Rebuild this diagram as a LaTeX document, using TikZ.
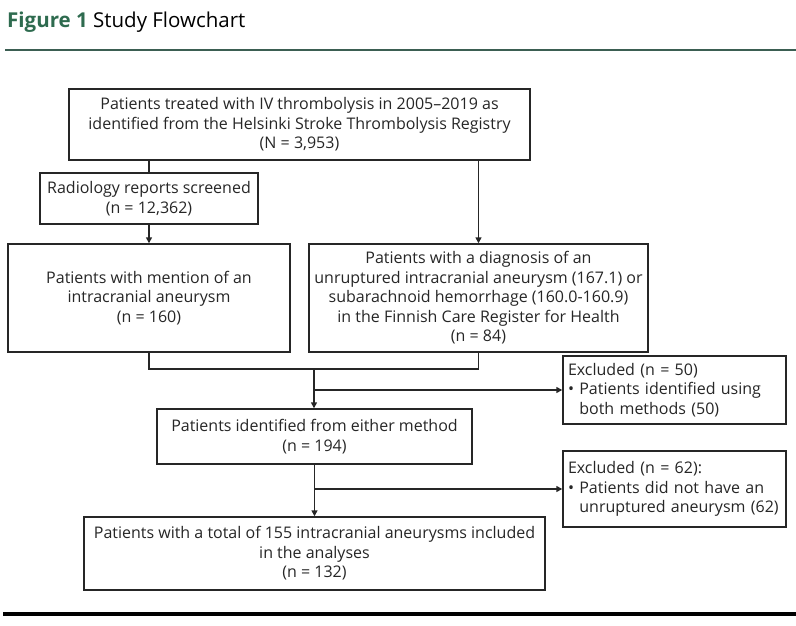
\documentclass[tikz,border=0pt]{standalone}
\usepackage{fontspec}
\setmainfont{Open Sans}
\usetikzlibrary{arrows.meta}
\definecolor{figgreen}{HTML}{2E6B4F}
\definecolor{rulegreen}{HTML}{3B5E52}
\begin{document}
\begin{tikzpicture}[x=1pt,y=-1pt,
  box/.style={draw=black!85, line width=1.4pt, align=center, inner sep=2pt,
    font=\fontsize{16}{19.5}\selectfont, text=black!85},
  conn/.style={draw=black!85, line width=1.4pt},
  arr/.style={conn, -{Triangle[length=6pt,width=6pt]}}]
\useasboundingbox (0,0) rectangle (796,626);
\node[anchor=base west, inner sep=0pt, font=\fontsize{20.5}{24}\selectfont] (title) at (7,28)
  {\textcolor{figgreen}{\bfseries Figure 1} Study Flowchart};
\draw[rulegreen, line width=2pt] (5,50) -- (796,50);
\draw[black, line width=4pt] (3,614) -- (796,614);

\node[box, minimum width=461, minimum height=71] (top) at (299.5,124.5)
  {Patients treated with IV thrombolysis in 2005–2019 as\\identified from the Helsinki Stroke Thrombolysis Registry\\(N = 3,953)};
\node[box, minimum width=218, minimum height=51] (rad) at (149,198.5)
  {Radiology reports screened\\(n = 12,362)};
\node[box, minimum width=282, minimum height=108] (mention) at (149,298)
  {Patients with mention of an\\intracranial aneurysm\\(n = 160)};
\node[box, minimum width=339, minimum height=108] (diag) at (478.5,298)
  {Patients with a diagnosis of an\\unruptured intracranial aneurysm (167.1) or\\subarachnoid hemorrhage (160.0-160.9)\\in the Finnish Care Register for Health\\(n = 84)};
\node[box, align=left, minimum width=223, minimum height=68, text width=213] (ex50) at (674.5,390)
  {Excluded (n = 50)\\• Patients identified using\\\hphantom{• }both methods (50)};
\node[box, minimum width=315, minimum height=55] (either) at (314.5,436.5)
  {Patients identified from either method\\(n = 194)};
\node[box, align=left, minimum width=223, minimum height=76, text width=213] (ex62) at (674.5,489)
  {Excluded (n = 62):\\• Patients did not have an\\\hphantom{• }unruptured aneurysm (62)};
\node[box, minimum width=461, minimum height=73] (final) at (314.5,553.5)
  {Patients with a total of 155 intracranial aneurysms included\\in the analyses\\(n = 132)};

\coordinate (j1) at (314,369);
\draw[conn] (rad.north |- top.south) -- (rad.north);
\draw[arr] (rad.south) -- (mention.north);
\draw[arr] (diag.north |- top.south) -- (diag.north);
\draw[conn] (mention.south) -- (mention.south |- j1) -- (diag.south |- j1) -- (diag.south);
\draw[arr] (j1) -- (j1 |- either.north);
\draw[arr] (j1 |- ex50.west) -- (ex50.west);
\draw[arr] (either.south) -- (final.north);
\draw[arr] (either.south |- ex62.west) -- (ex62.west);
\end{tikzpicture}
\end{document}
